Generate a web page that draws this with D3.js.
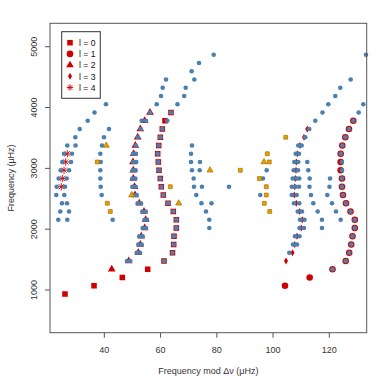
<!DOCTYPE html>
<html><head><meta charset="utf-8">
<script src="https://cdn.jsdelivr.net/npm/d3@7"></script>
<style>body{margin:0;background:#fff} svg{display:block;font-family:"Liberation Sans",Arial,Helvetica,sans-serif}</style>
</head><body><svg id="c" width="390" height="390"></svg>
<script>
const xTicks = [40, 60, 80, 100, 120];
const yTicks = [1000, 2000, 3000, 4000, 5000];
const legendLabels = ["l = 0", "l = 1", "l = 2", "l = 3", "l = 4"];
const xTitle = "Frequency mod \u0394\u03bd (\u03bcHz)";
const yTitle = "Frequency (\u03bcHz)";

// identified modes [frequency mod Δν, frequency]
const l0 = [[26.01,934],[36.33,1070],[46.39,1206],[55.42,1341],[61.21,1477],[64.24,1612],[64.66,1748],[64.77,1884],[65.59,2019],[65.59,2155],[64.52,2291],[62.64,2426],[60.97,2562],[60.26,2698],[59.90,2833],[59.44,2969],[59.19,3105],[58.97,3240],[59.33,3376],[59.90,3511],[60.61,3647],[61.57,3783],[63.70,3918]];
const l1 = [[104.24,1070],[113.02,1206],[121.13,1341],[125.82,1477],[127.07,1612],[127.78,1748],[128.24,1884],[129.06,2019],[129.06,2155],[127.53,2291],[125.93,2426],[124.86,2562],[124.50,2698],[124.50,2833],[124.04,2969],[124.04,3105],[124.04,3240],[124.61,3376],[125.68,3511],[126.99,3647],[128.52,3783]];
const l2 = [[42.62,1341],[48.66,1477],[52.08,1612],[52.79,1748],[53.14,1884],[54.35,2019],[54.71,2155],[54.10,2291],[52.43,2426],[50.90,2562],[50.73,2698],[50.30,2833],[50.30,2969],[50.19,3105],[50.44,3240],[51.01,3376],[51.86,3511],[52.79,3647],[54.35,3783],[56.24,3918]];
const l3 = [[104.60,1477],[106.90,1612],[107.69,1748],[108.50,1884],[110.03,2019],[110.39,2155],[109.46,2291],[108.25,2426],[107.54,2562],[107.69,2698],[107.90,2833],[108.15,2969],[108.25,3105],[108.61,3240],[109.57,3376],[110.99,3511],[112.16,3647]];
const l4 = [[24.70,2698],[25.20,2833],[25.66,2969],[26.26,3105],[26.83,3240]];

// model frequencies (blue)
const model = [
 [121.13,1341],
 [61.21,1477],[48.06,1477],[49.23,1477],[125.82,1477],
 [64.24,1612],[51.51,1612],[52.68,1612],[105.76,1612],[127.07,1612],
 [64.66,1748],[52.08,1748],[53.28,1748],[107.08,1748],[108.50,1748],[127.78,1748],
 [64.77,1884],[52.43,1884],[53.64,1884],[107.79,1884],[109.39,1884],[128.24,1884],
 [65.59,2019],[53.64,2019],[54.82,2019],[77.32,2019],[109.39,2019],[110.99,2019],[117.39,2019],[129.06,2019],
 [23.63,2155],[26.83,2155],[42.97,2155],[54.28,2155],[55.17,2155],[65.59,2155],[77.32,2155],[109.57,2155],[111.17,2155],[117.39,2155],[124.04,2155],[129.06,2155],
 [24.34,2291],[27.44,2291],[53.50,2291],[54.71,2291],[64.52,2291],[76.15,2291],[108.78,2291],[110.28,2291],[115.86,2291],[122.37,2291],[127.53,2291],
 [24.95,2426],[26.73,2426],[51.86,2426],[53.04,2426],[62.64,2426],[74.55,2426],[78.10,2426],[107.43,2426],[109.32,2426],[114.30,2426],[120.95,2426],[125.93,2426],
 [22.92,2562],[25.77,2562],[39.06,2562],[50.30,2562],[51.51,2562],[60.97,2562],[72.70,2562],[95.45,2562],[106.65,2562],[108.39,2562],[113.48,2562],[119.27,2562],[124.86,2562],
 [23.06,2698],[26.01,2698],[38.71,2698],[49.94,2698],[51.15,2698],[60.26,2698],[71.88,2698],[74.72,2698],[84.32,2698],[106.65,2698],[107.97,2698],[109.21,2698],[112.95,2698],[120.06,2698],[124.50,2698],
 [23.77,2833],[26.62,2833],[38.57,2833],[49.94,2833],[51.01,2833],[59.90,2833],[71.77,2833],[96.41,2833],[106.97,2833],[108.39,2833],[109.32,2833],[113.02,2833],[120.24,2833],[124.50,2833],
 [24.48,2969],[27.44,2969],[38.57,2969],[50.09,2969],[51.15,2969],[59.44,2969],[71.17,2969],[73.90,2969],[97.73,2969],[107.33,2969],[108.86,2969],[112.52,2969],[124.50,2969],
 [25.06,3105],[28.15,3105],[38.71,3105],[50.30,3105],[51.37,3105],[59.19,3105],[70.81,3105],[74.01,3105],[107.54,3105],[108.96,3105],[112.16,3105],[124.50,3105],
 [25.66,3240],[28.50,3240],[38.57,3240],[50.19,3240],[51.26,3240],[58.97,3240],[70.81,3240],[108.04,3240],[109.21,3240],[124.04,3240],
 [26.83,3376],[29.75,3376],[39.17,3376],[51.15,3376],[59.33,3376],[71.17,3376],[108.96,3376],[110.17,3376],[124.61,3376],
 [29.68,3511],[39.88,3511],[51.97,3511],[59.90,3511],[111.45,3511],[125.68,3511],
 [31.24,3647],[41.66,3647],[52.93,3647],[60.61,3647],[112.87,3647],[126.99,3647],
 [34.09,3783],[53.28,3783],[54.82,3783],[62.39,3783],[115.01,3783],[128.52,3783],
 [36.50,3918],[56.24,3918],[63.70,3918],[117.57,3918],[130.44,3918],
 [40.59,4054],[58.62,4054],[66.01,4054],[119.63,4054],[132.08,4054],
 [60.15,4190],[68.40,4190],[122.12,4190],
 [60.75,4325],[68.93,4325],[123.90,4325],
 [61.93,4461],[71.99,4461],[127.59,4461],
 [71.06,4596],
 [73.66,4732],
 [78.89,4868],[133.03,4868]
];

// other candidate modes (orange)
const otherSq = [[37.50,3105],[41.06,2426],[42.12,2291],[63.46,2698],[88.34,2969],[95.17,2833],[97.59,2698],[97.59,2562],[96.88,2426],[98.80,2291],[97.94,3240],[98.65,3105],[104.49,3511]];
const otherTri = [[40.70,3376],[49.73,2562],[66.44,2426],[77.57,2969],[96.77,3105]];

const RED = "#d10000", BLUE = "#4a80b0", ORANGE = "#e8a000", ORANGE_EDGE = "#a87000";
const svg = d3.select("#c");
const L = 50, R = 366.7, T = 23.3, B = 332.7;
const x = d3.scaleLinear().domain([20.68, 133.29]).range([L, R]);
const y = d3.scaleLinear().domain([298, 5385]).range([B, T]);

const starPath = (s) => `M${-s},0L${s},0M0,${-s}L0,${s}M${-s*0.72},${-s*0.72}L${s*0.72},${s*0.72}M${-s*0.72},${s*0.72}L${s*0.72},${-s*0.72}`;
const symSq = d3.symbol().type(d3.symbolSquare).size(31)();
const symCi = d3.symbol().type(d3.symbolCircle).size(34)();
const symTr = d3.symbol().type(d3.symbolTriangle).size(26)();
const symDi = d3.symbol().type(d3.symbolDiamond).size(14)();

const plot = svg.append("g");
function drawRed(data, path, cls, stroke) {
  const sel = plot.selectAll("path." + cls).data(data).join("path").attr("class", cls)
    .attr("transform", d => `translate(${x(d[0])},${y(d[1])})`).attr("d", path);
  if (stroke) sel.attr("fill", "none").attr("stroke", RED).attr("stroke-width", 0.9);
  else sel.attr("fill", RED);
}
drawRed(l0, symSq, "l0");
drawRed(l1, symCi, "l1");
drawRed(l2, symTr, "l2");
drawRed(l3, symDi, "l3");
drawRed(l4, starPath(3.6), "l4", true);

plot.selectAll("circle.model").data(model).join("circle").attr("class", "model")
  .attr("cx", d => x(d[0])).attr("cy", d => y(d[1])).attr("r", 2.3).attr("fill", BLUE);

const oSq = d3.symbol().type(d3.symbolSquare).size(15)();
const oTr = d3.symbol().type(d3.symbolTriangle).size(16)();
plot.selectAll("path.osq").data(otherSq).join("path").attr("class", "osq")
  .attr("transform", d => `translate(${x(d[0])},${y(d[1])})`).attr("d", oSq)
  .attr("fill", ORANGE).attr("stroke", ORANGE_EDGE).attr("stroke-width", 0.7);
plot.selectAll("path.otr").data(otherTri).join("path").attr("class", "otr")
  .attr("transform", d => `translate(${x(d[0])},${y(d[1])})`).attr("d", oTr)
  .attr("fill", ORANGE).attr("stroke", ORANGE_EDGE).attr("stroke-width", 0.7);

// frame
svg.append("rect").attr("x", L).attr("y", T).attr("width", R - L).attr("height", B - T)
  .attr("fill", "none").attr("stroke", "#555").attr("stroke-width", 1);

// x axis
const xa = svg.append("g");
xa.selectAll("line").data(xTicks).join("line")
  .attr("x1", d => x(d)).attr("x2", d => x(d)).attr("y1", B).attr("y2", B + 5)
  .attr("stroke", "#555");
xa.selectAll("text").data(xTicks).join("text")
  .attr("x", d => x(d)).attr("y", B + 20.5).attr("text-anchor", "middle")
  .attr("font-size", 9).attr("fill", "#333").text(d => d);
svg.append("text").attr("x", (L + R) / 2).attr("y", 373.5).attr("text-anchor", "middle")
  .attr("font-size", 9).attr("fill", "#333").text(xTitle);

// y axis
const ya = svg.append("g");
ya.selectAll("line").data(yTicks).join("line")
  .attr("y1", d => y(d)).attr("y2", d => y(d)).attr("x1", L).attr("x2", L - 5)
  .attr("stroke", "#555");
ya.selectAll("text").data(yTicks).join("text")
  .attr("transform", d => `translate(36.5,${y(d)}) rotate(-90)`).attr("text-anchor", "middle")
  .attr("font-size", 9).attr("fill", "#333").text(d => d);
svg.append("text").attr("transform", `translate(13.5,${(T + B) / 2}) rotate(-90)`)
  .attr("text-anchor", "middle").attr("font-size", 9).attr("fill", "#333").text(yTitle);

// legend
const lg = svg.append("g");
lg.append("rect").attr("x", 61.7).attr("y", 31.7).attr("width", 38.6).attr("height", 66.6)
  .attr("fill", "#fff").attr("stroke", "#333").attr("stroke-width", 1);
const legSyms = [symSq, symCi, symTr, symDi, starPath(3.2)];
legendLabels.forEach((lab, i) => {
  const cy = 42.7 + i * 11.2;
  const p = lg.append("path").attr("transform", `translate(70,${cy})`).attr("d", legSyms[i]);
  if (i === 4) p.attr("fill", "none").attr("stroke", RED).attr("stroke-width", 0.9);
  else p.attr("fill", RED);
  lg.append("text").attr("x", 79).attr("y", cy + 3.2).attr("font-size", 8.6).attr("fill", "#111").text(lab);
});
</script>
</body></html>
